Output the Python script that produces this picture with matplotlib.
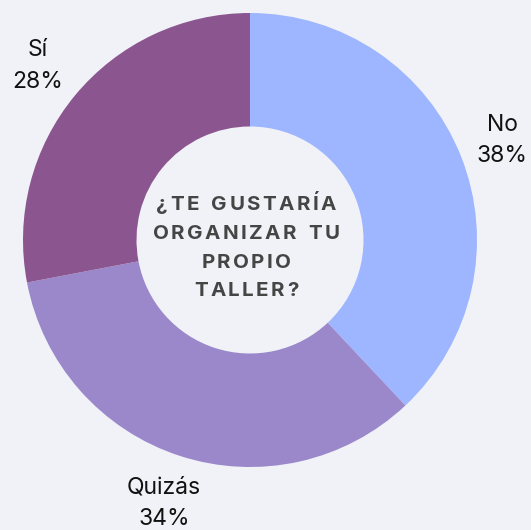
import matplotlib.pyplot as plt

labels = ["No", "Quizás", "Sí"]
values = [38, 34, 28]
colors = ["#9db6ff", "#9a88cb", "#8b5690"]
title_lines = ["¿TE GUSTARÍA", "ORGANIZAR TU", "PROPIO", "TALLER?"]

bg = "#f1f2f7"
plt.rcParams["font.family"] = ["Inter", "DejaVu Sans"]

fig = plt.figure(figsize=(5.31, 5.30), dpi=100, facecolor=bg)
ax = fig.add_axes([23 / 531, 63 / 530, 454 / 531, 454 / 530])
ax.set_facecolor(bg)

wedges, _ = ax.pie(values, colors=colors, startangle=90, counterclock=False,
                   radius=1, wedgeprops=dict(width=0.5, linewidth=0))
ax.set_xlim(-1, 1)
ax.set_ylim(-1, 1)
ax.set_aspect("equal")
ax.axis("off")

# outside labels
label_pos = [(1.112, 0.438), (-0.379, -1.161), (-0.936, 0.767)]
for lb, v, (x, y) in zip(labels, values, label_pos):
    ax.text(x, y, f"{lb}\n{v}%", ha="center", va="center", fontsize=16.5,
            color="#111111", linespacing=1.55, clip_on=False)

# centre title, drawn letter by letter to get the tracking
renderer = fig.canvas.get_renderer()
fs = 14.8
line_h = 28.5
base0 = 210.5
target_w = 187  # width of the widest line in px
cx = 246


def char_widths(line):
    out = []
    for ch in line:
        t = fig.text(0, 0, ch if ch != " " else "I", fontsize=fs, fontweight="bold")
        w = t.get_window_extent(renderer).width
        t.remove()
        out.append(w * 1.3 if ch == " " else w)
    return out


ref = char_widths("ORGANIZAR TU")
spacing = (target_w - sum(ref)) / (len(ref) - 1)

for i, line in enumerate(title_lines):
    widths = char_widths(line)
    total = sum(widths) + spacing * (len(line) - 1)
    x = cx - total / 2
    y = base0 + i * line_h
    for ch, w in zip(line, widths):
        if ch != " ":
            fig.text(x / 531, 1 - y / 530, ch, fontsize=fs, fontweight="bold",
                     color="#454545", ha="left", va="baseline")
        x += w + spacing

fig.savefig("out.png", dpi=100, facecolor=bg)
